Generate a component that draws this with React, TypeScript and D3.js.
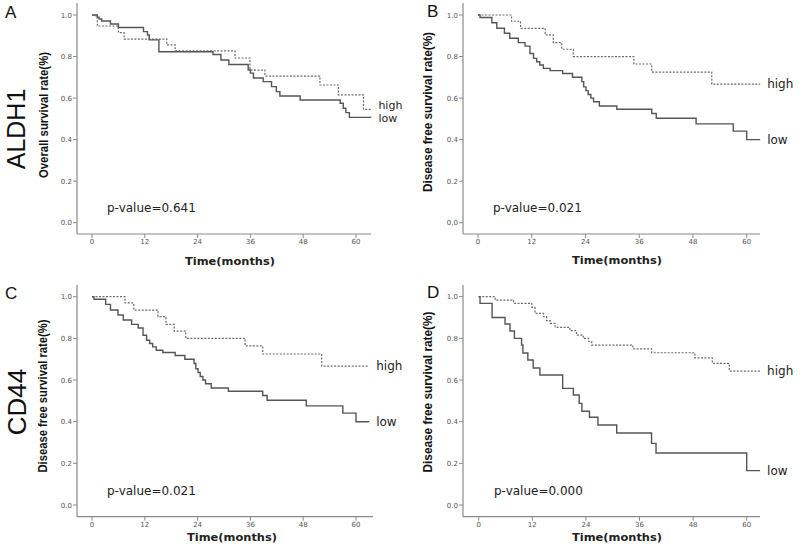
import React from "react";
import * as d3 from "d3";

const xTicks = [0, 12, 24, 36, 48, 60];
const yTicks = [0, 0.2, 0.4, 0.6, 0.8, 1.0];

// A: ALDH1, overall survival
const aLowTime = [0, 1.2, 1.6, 2.2, 4.2, 6.0, 11.7, 12.6, 13.0, 15.2, 27.5, 29.3, 31.1, 35.5, 36.0, 36.7, 38.9, 40.8, 41.9, 42.7, 47.3, 56.4, 57.1, 57.7, 58.5, 63.5];
const aLowRate = [1.0, 0.99, 0.981, 0.971, 0.957, 0.94, 0.92, 0.904, 0.88, 0.823, 0.81, 0.783, 0.762, 0.735, 0.72, 0.697, 0.679, 0.655, 0.631, 0.61, 0.591, 0.575, 0.551, 0.53, 0.507, 0.507];
const aHighTime = [0, 0.9, 1.2, 6.0, 7.3, 17.0, 18.9, 32.5, 35.9, 39.3, 51.8, 56.0, 61.7, 63.5];
const aHighRate = [1.0, 0.99, 0.947, 0.915, 0.884, 0.856, 0.827, 0.793, 0.735, 0.706, 0.663, 0.615, 0.546, 0.546];

// B and C: disease free survival
const dfsLowTime = [0, 0.45, 3.1, 4.2, 5.9, 7.1, 9.0, 10.5, 11.6, 12.4, 13.1, 13.8, 14.6, 16.1, 18.9, 21.1, 23.2, 23.6, 24.1, 24.6, 25.2, 25.8, 27.1, 31.0, 38.8, 39.8, 48.7, 57.0, 60.0, 63.0];
const dfsLowRate = [1.0, 0.988, 0.963, 0.936, 0.912, 0.888, 0.867, 0.85, 0.815, 0.791, 0.775, 0.759, 0.743, 0.732, 0.718, 0.7, 0.679, 0.654, 0.636, 0.617, 0.6, 0.582, 0.562, 0.546, 0.526, 0.503, 0.476, 0.441, 0.4, 0.4];
const dfsHighTime = [0, 7.5, 9.5, 15.0, 16.8, 18.7, 21.3, 34.8, 38.8, 52.2, 63.0];
const dfsHighRate = [1.0, 0.97, 0.936, 0.904, 0.867, 0.835, 0.8, 0.764, 0.725, 0.667, 0.667];

// D: CD44 disease free survival
const dLowTime = [0, 0.3, 3.0, 5.9, 7.0, 8.0, 9.6, 9.9, 11.0, 12.2, 13.7, 18.8, 21.2, 22.5, 23.1, 24.8, 26.7, 30.9, 38.7, 39.7, 60.0, 63.0];
const dLowRate = [1.0, 0.968, 0.9, 0.869, 0.835, 0.8, 0.768, 0.73, 0.696, 0.658, 0.624, 0.56, 0.528, 0.488, 0.45, 0.421, 0.384, 0.346, 0.296, 0.25, 0.165, 0.165];
const dHighTime = [0, 3.7, 7.8, 11.9, 12.6, 14.5, 15.2, 16.0, 17.1, 20.4, 21.9, 23.4, 24.6, 25.3, 34.5, 38.7, 48.4, 52.3, 56.1, 63.0];
const dHighRate = [1.0, 0.984, 0.968, 0.949, 0.92, 0.904, 0.885, 0.872, 0.853, 0.837, 0.816, 0.8, 0.785, 0.768, 0.75, 0.731, 0.706, 0.68, 0.643, 0.643];

const panelLetters = ["A", "B", "C", "D"];
const rowLabels = ["ALDH1", "CD44"];
const yTitles = ["Overall survival rate(%)", "Disease free survival rate(%)", "Disease free survival rate(%)", "Disease free survival rate(%)"];
const pValues = ["p-value=0.641", "p-value=0.021", "p-value=0.021", "p-value=0.000"];
const xTitle = "Time(months)";
const seriesNames = ["high", "low"];

const panelSeries = [
  { low: [aLowTime, aLowRate], high: [aHighTime, aHighRate] },
  { low: [dfsLowTime, dfsLowRate], high: [dfsHighTime, dfsHighRate] },
  { low: [dfsLowTime, dfsLowRate], high: [dfsHighTime, dfsHighRate] },
  { low: [dLowTime, dLowRate], high: [dHighTime, dHighRate] },
];

// layout (pixels)
const layout = [
  { ax: 77, ay: 234, top: 3, right: 371, x0: 92, x60: 356, y1: 15, y0: 222.7, letter: [5, 18], yT: [44, 115, 126], xT: [230, 265], p: [107, 212], hiOff: -0.5, loOff: 4.8, labelSize: 11 },
  { ax: 463, ay: 234, top: 3, right: 760, x0: 478, x60: 746.7, y1: 15, y0: 222.7, letter: [427, 17], yT: [428, 112, 160], xT: [617, 264], p: [493, 212], hiOff: 4, loOff: 4, labelSize: 12 },
  { ax: 77, ay: 516.7, top: 285, right: 373, x0: 92, x60: 356, y1: 296.7, y0: 505, letter: [5, 299], yT: [43, 396, 153], xT: [232, 541], p: [107, 495], hiOff: 4, loOff: 4, labelSize: 12 },
  { ax: 463, ay: 516.7, top: 285, right: 760, x0: 478.7, x60: 746.7, y1: 296.7, y0: 505, letter: [427, 298], yT: [428, 392, 161], xT: [617, 541], p: [494, 495], hiOff: 4, loOff: 4, labelSize: 12 },
];

const axisColor = "#8a8a8a";
const tickFont = "'DejaVu Sans', Verdana, sans-serif";

function Panel({ i }: { i: number }) {
  const L = layout[i];
  const S = panelSeries[i];
  const x = d3.scaleLinear().domain([0, 60]).range([L.x0, L.x60]);
  const y = d3.scaleLinear().domain([0, 1]).range([L.y0, L.y1]);
  const line = d3
    .line<[number, number]>()
    .x((d) => x(d[0]))
    .y((d) => y(d[1]))
    .curve(d3.curveStepAfter);
  const pts = (s: number[][]) => s[0].map((t, k) => [t, s[1][k]] as [number, number]);
  const lowPts = pts(S.low);
  const highPts = pts(S.high);
  const lowLast = lowPts[lowPts.length - 1];
  const highLast = highPts[highPts.length - 1];
  return (
    <g>
      <text x={L.letter[0]} y={L.letter[1]} fontFamily="'Liberation Sans', Arial, sans-serif" fontSize={17} fill="#111">
        {panelLetters[i]}
      </text>
      <line x1={L.ax} x2={L.ax} y1={L.top} y2={L.ay} stroke={axisColor} strokeWidth={1.2} />
      <line x1={L.ax} x2={L.right} y1={L.ay} y2={L.ay} stroke={axisColor} strokeWidth={1.2} />
      {yTicks.map((v) => (
        <g key={"y" + v}>
          <line x1={L.ax - 4} x2={L.ax} y1={y(v)} y2={y(v)} stroke={axisColor} strokeWidth={1} />
          <text x={L.ax - 5} y={y(v) + 2.5} textAnchor="end" fontFamily={tickFont} fontSize={7} fill="#555">
            {v.toFixed(1)}
          </text>
        </g>
      ))}
      {xTicks.map((v) => (
        <g key={"x" + v}>
          <line x1={x(v)} x2={x(v)} y1={L.ay} y2={L.ay + 4} stroke={axisColor} strokeWidth={1} />
          <text x={x(v)} y={L.ay + 10} textAnchor="middle" fontFamily={tickFont} fontSize={7} fill="#555">
            {v}
          </text>
        </g>
      ))}
      <text
        transform={`translate(${L.yT[0] + 4},${L.yT[1]}) rotate(-90)`}
        textAnchor="middle"
        fontFamily="'Liberation Sans Narrow', 'Liberation Sans', Arial, sans-serif"
        fontWeight="bold"
        fontSize={12}
        textLength={L.yT[2]}
        lengthAdjust="spacingAndGlyphs"
        fill="#111"
      >
        {yTitles[i]}
      </text>
      <text x={L.xT[0]} y={L.xT[1]} textAnchor="middle" fontFamily={tickFont} fontWeight="bold" fontSize={11} textLength={90} lengthAdjust="spacingAndGlyphs" fill="#222">
        {xTitle}
      </text>
      <text x={L.p[0]} y={L.p[1]} fontFamily={tickFont} fontSize={12} fill="#222">
        {pValues[i]}
      </text>
      <path d={line(highPts) || ""} fill="none" stroke="#6a6a6a" strokeWidth={1.2} strokeDasharray="2,1.5" />
      <path d={line(lowPts) || ""} fill="none" stroke="#555" strokeWidth={1.4} />
      <text x={x(highLast[0]) + 7} y={y(highLast[1]) + L.hiOff} fontFamily={tickFont} fontSize={L.labelSize} fill="#222">
        {seriesNames[0]}
      </text>
      <text x={x(lowLast[0]) + 7} y={y(lowLast[1]) + L.loOff} fontFamily={tickFont} fontSize={L.labelSize} fill="#222">
        {seriesNames[1]}
      </text>
    </g>
  );
}

export default function App() {
  return (
    <svg width={800} height={550} style={{ position: "absolute", left: 0, top: 0, background: "#fff" }}>
      <rect x={0} y={0} width={800} height={550} fill="#fff" />
      {[0, 1, 2, 3].map((i) => (
        <Panel key={i} i={i} />
      ))}
      <text transform="translate(25,129) rotate(-90)" textAnchor="middle" fontFamily="'Liberation Sans', Arial, sans-serif" fontSize={25} fill="#111">
        {rowLabels[0]}
      </text>
      <text transform="translate(26,402) rotate(-90)" textAnchor="middle" fontFamily="'Liberation Sans', Arial, sans-serif" fontSize={26} fill="#111">
        {rowLabels[1]}
      </text>
    </svg>
  );
}
